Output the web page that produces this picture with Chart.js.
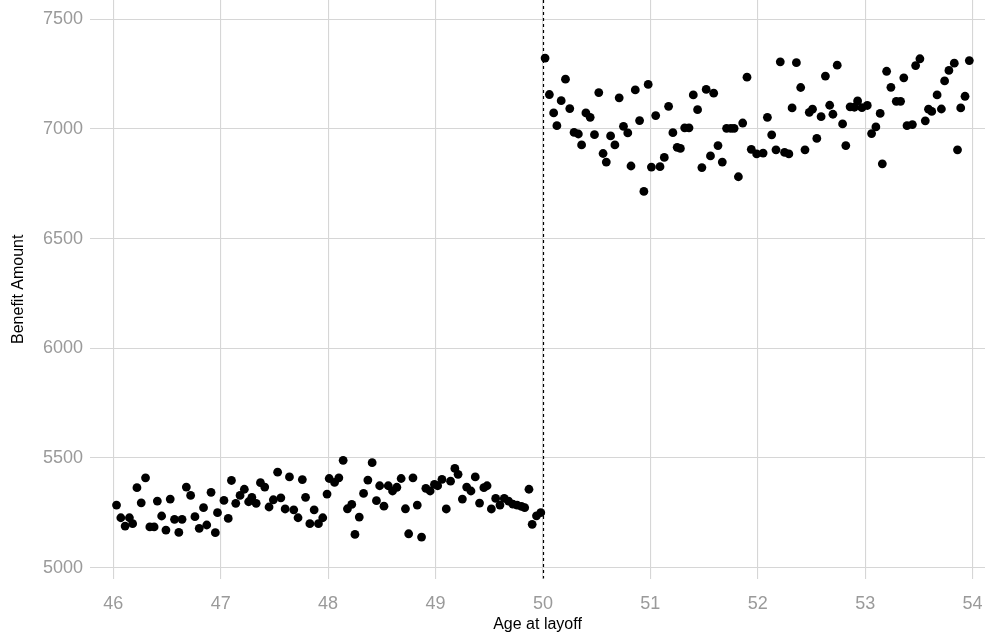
<!DOCTYPE html>
<html>
<head>
<meta charset="utf-8">
<title>Benefit Amount by Age at layoff</title>
<script src="https://cdn.jsdelivr.net/npm/chart.js@4.4.1/dist/chart.umd.min.js"></script>
<style>
  html, body { margin: 0; padding: 0; background: #fff; }
  #wrap { width: 985px; height: 640px; position: relative; }
</style>
</head>
<body>
<div id="wrap"><canvas id="grafico"></canvas></div>
<script>
// workers laid off before 50
const ageBelow = [
  46.03, 46.07, 46.11, 46.15, 46.18, 46.22, 46.26, 46.30, 46.34, 46.38,
  46.41, 46.45, 46.49, 46.53, 46.57, 46.61, 46.64, 46.68, 46.72, 46.76,
  46.80, 46.84, 46.87, 46.91, 46.95, 46.97,
  47.03, 47.07, 47.10, 47.14, 47.18, 47.22, 47.26, 47.29, 47.33, 47.37,
  47.41, 47.45, 47.49, 47.53, 47.56, 47.60, 47.64, 47.68, 47.72, 47.76,
  47.79, 47.83, 47.87, 47.91, 47.95, 47.99, 48.01,
  48.06, 48.10, 48.14, 48.18, 48.22, 48.25, 48.29, 48.33, 48.37, 48.41,
  48.45, 48.48, 48.52, 48.56, 48.60, 48.64, 48.68, 48.72, 48.75, 48.79,
  48.83, 48.87, 48.91, 48.95, 48.99,
  49.02, 49.06, 49.10, 49.14, 49.18, 49.21, 49.25, 49.29, 49.33, 49.37,
  49.41, 49.45, 49.48, 49.52, 49.56, 49.60, 49.64, 49.68, 49.72, 49.76,
  49.80, 49.83, 49.87, 49.90, 49.94, 49.98
];
const benefitBelow = [
  5285, 5227, 5189, 5227, 5200, 5364, 5295, 5409, 5185, 5185,
  5303, 5235, 5171, 5312, 5220, 5160, 5220, 5367, 5329, 5232,
  5179, 5273, 5194, 5343, 5159, 5250,
  5306, 5224, 5397, 5293, 5329, 5357, 5300, 5320, 5293, 5387,
  5367, 5276, 5309, 5435, 5318, 5267, 5413, 5263, 5227, 5401,
  5320, 5200, 5263, 5200, 5227, 5335, 5406,
  5388, 5409, 5489, 5268, 5288, 5151, 5230, 5338, 5399, 5478,
  5305, 5373, 5280, 5373, 5349, 5366, 5406, 5268, 5154, 5409,
  5285, 5139, 5361, 5349, 5379,
  5373, 5402, 5267, 5394, 5452, 5425, 5312, 5367, 5349, 5413,
  5294, 5364, 5373, 5267, 5315, 5285, 5315, 5303, 5289, 5285,
  5279, 5273, 5357, 5197, 5236, 5250
];

// workers laid off at 50 or later
const ageAbove = [
  50.02, 50.06, 50.10, 50.13, 50.17, 50.21, 50.25, 50.29, 50.33, 50.36,
  50.40, 50.44, 50.48, 50.52, 50.56, 50.59, 50.63, 50.67, 50.71, 50.75,
  50.79, 50.82, 50.86, 50.90, 50.94, 50.98, 51.01, 51.05, 51.09, 51.13,
  51.17, 51.21, 51.25, 51.28, 51.32, 51.36, 51.40, 51.44, 51.48, 51.52,
  51.56, 51.59, 51.63, 51.67, 51.71, 51.75, 51.78, 51.82, 51.86, 51.90,
  51.94, 51.99, 52.05, 52.09, 52.13, 52.17, 52.21, 52.25, 52.29, 52.32,
  52.36, 52.40, 52.44, 52.48, 52.51, 52.55, 52.59, 52.63, 52.67, 52.70,
  52.74, 52.79, 52.82, 52.86, 52.90, 52.93, 52.97, 53.02, 53.06, 53.10,
  53.14, 53.16, 53.20, 53.24, 53.29, 53.33, 53.36, 53.39, 53.44, 53.47,
  53.51, 53.56, 53.59, 53.62, 53.67, 53.71, 53.74, 53.78, 53.83, 53.86,
  53.89, 53.93, 53.97
];
const benefitAbove = [
  7323, 7157, 7073, 7015, 7129, 7227, 7093, 6984, 6977, 6927,
  7073, 7053, 6974, 7166, 6888, 6849, 6968, 6927, 7142, 7012,
  6982, 6831, 7178, 7038, 6715, 7203, 6826, 7061, 6828, 6870,
  7103, 6983, 6916, 6911, 7005, 7005, 7155, 7088, 6824, 7180,
  6877, 7163, 6924, 6849, 7003, 7003, 7003, 6782, 7027, 7236,
  6907, 6886, 6890, 7053, 6973, 6905, 7306, 6893, 6886, 7096,
  7302, 7189, 6905, 7076, 7090, 6957, 7056, 7241, 7108, 7067,
  7291, 7023, 6924, 7101, 7099, 7128, 7097, 7107, 6979, 7009,
  7071, 6841, 7263, 7190, 7126, 7126, 7233, 7015, 7020, 7289,
  7320, 7037, 7090, 7080, 7155, 7091, 7219, 7267, 7300, 6905,
  7096, 7149, 7312
];

const ageTicks = [46, 47, 48, 49, 50, 51, 52, 53, 54];
const benefitTicks = [5000, 5500, 6000, 6500, 7000, 7500];
const cutoff = 50;

const pontos = (xs, ys) => xs.map((x, i) => ({ x: x, y: ys[i] }));

// dashed vertical line at the cutoff age
const linhaCorte = {
  id: "linhaCorte",
  afterDatasetsDraw(chart) {
    const { ctx, chartArea, scales } = chart;
    const x = Math.round(scales.x.getPixelForValue(cutoff)) + 0.5;
    ctx.save();
    ctx.strokeStyle = "#000";
    ctx.lineWidth = 1.2;
    ctx.setLineDash([3, 3]);
    ctx.beginPath();
    ctx.moveTo(x, chartArea.top);
    ctx.lineTo(x, chartArea.bottom);
    ctx.stroke();
    ctx.restore();
  }
};

Chart.defaults.font.family = "'Liberation Sans', Arial, sans-serif";

const grade = { color: "#d6d6d6", lineWidth: 1.1, drawTicks: false };
const semVirgula = (v) => String(v);

new Chart(document.getElementById("grafico"), {
  type: "scatter",
  data: {
    datasets: [
      {
        data: pontos(ageBelow, benefitBelow),
        backgroundColor: "#000",
        borderWidth: 0,
        pointRadius: 4.4
      },
      {
        data: pontos(ageAbove, benefitAbove),
        backgroundColor: "#000",
        borderWidth: 0,
        pointRadius: 4.4
      }
    ]
  },
  options: {
    responsive: true,
    maintainAspectRatio: false,
    animation: false,
    layout: { padding: 0, autoPadding: false },
    plugins: {
      legend: { display: false },
      tooltip: { enabled: false }
    },
    scales: {
      x: {
        type: "linear",
        min: 45.783,
        max: 54.116,
        grid: grade,
        border: { display: false },
        afterBuildTicks: (s) => { s.ticks = ageTicks.map(v => ({ value: v })); },
        afterFit: (s) => {
          s.height = 61.5;
          s.paddingLeft = 0;
          s.paddingRight = 0;
        },
        ticks: { color: "#9a9a9a", font: { size: 18 }, padding: 15, maxRotation: 0, callback: semVirgula },
        title: {
          display: true,
          text: "Age at layoff",
          color: "#000",
          font: { size: 16 },
          padding: { top: 0, bottom: 6 }
        }
      },
      y: {
        type: "linear",
        min: 4950,
        max: 7588,
        grid: grade,
        border: { display: false },
        afterBuildTicks: (s) => { s.ticks = benefitTicks.map(v => ({ value: v })); },
        afterFit: (s) => {
          s.width = 90;
          s.paddingTop = 0;
          s.paddingBottom = 0;
        },
        ticks: { color: "#9a9a9a", font: { size: 18 }, padding: 7, callback: semVirgula },
        title: {
          display: true,
          text: "Benefit Amount",
          color: "#000",
          font: { size: 16 },
          padding: { top: 9, bottom: 0 }
        }
      }
    }
  },
  plugins: [linhaCorte]
});
</script>
</body>
</html>
